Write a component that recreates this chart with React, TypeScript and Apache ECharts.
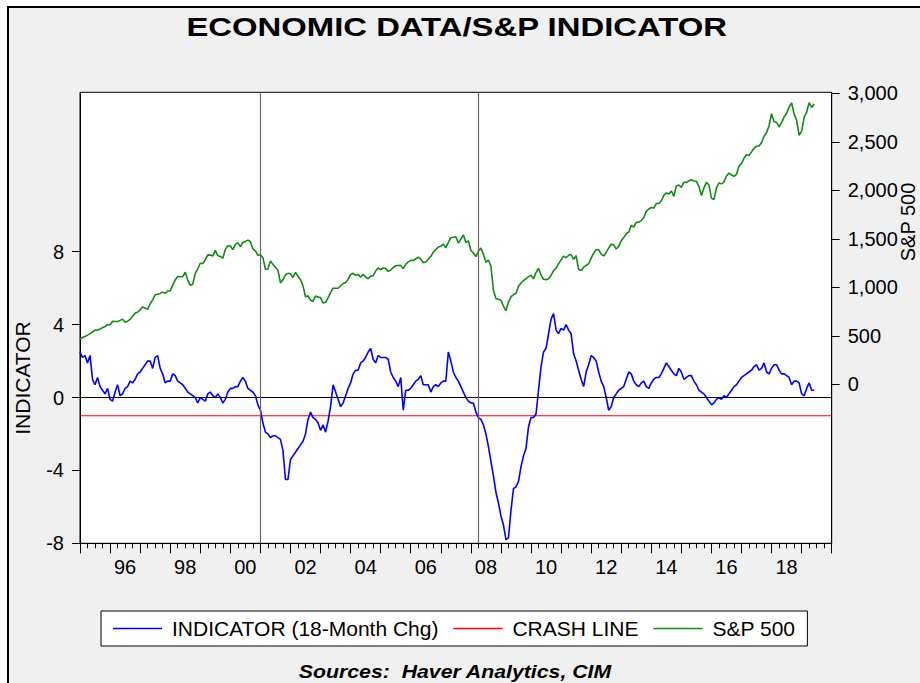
import React, { useEffect, useRef } from 'react';
import * as echarts from 'echarts';

const START_YEAR = 1995;

// INDICATOR (18-Month Chg), monthly from Jan 1995
const indicator = [
  2.5, 2.2, 2.3, 1.9, 2.3, 1.0, 0.7, 1.1, 0.6, 0.4, 0.2, 0.5,
  -0.1, -0.2, 0.3, 0.7, 0.1, 0.2, 0.5, 0.6, 0.9, 0.8, 1.0, 1.3,
  1.4, 1.6, 1.8, 2.0, 2.0, 1.6, 2.2, 2.3, 1.6, 1.3, 0.8, 0.9,
  0.9, 1.3, 1.2, 0.9, 0.8, 0.7, 0.5, 0.3, 0.2, 0.1, 0.0, -0.3,
  0.0, -0.1, -0.2, 0.2, 0.3, 0.1, 0.0, 0.2, 0.0, -0.3, -0.1, 0.3,
  0.5, 0.5, 0.6, 0.6, 0.9, 1.1, 0.9, 0.5, 0.4, 0.3, 0.1, -0.4,
  -0.7, -1.4, -1.9, -2.0, -2.2, -2.1, -2.1, -2.2, -2.3, -2.9, -4.5, -4.5,
  -3.4, -3.2, -3.0, -2.8, -2.6, -2.4, -2.0, -1.2, -0.8, -1.1, -1.2, -1.4,
  -1.8, -1.5, -1.9, -1.3, -0.5, 0.7, 0.3, -0.1, -0.5, -0.3, 0.1, 0.5,
  0.8, 1.3, 1.5, 1.5, 1.9, 2.0, 2.2, 2.5, 2.7, 2.1, 1.9, 2.3,
  2.2, 2.2, 2.2, 2.1, 1.4, 1.1, 0.9, 0.6, 1.1, -0.7, 0.4, 0.4,
  0.5, 0.7, 0.9, 1.0, 1.2, 0.7, 0.7, 0.7, 0.3, 0.6, 0.7, 0.6,
  0.8, 0.9, 0.9, 2.5, 2.0, 1.4, 1.1, 0.9, 0.6, 0.3, 0.0, -0.2,
  -0.3, -0.3, -0.8, -1.1, -1.2, -1.5, -2.0, -2.7, -3.5, -4.3, -5.2, -5.8,
  -6.5, -7.0, -7.8, -7.7, -6.2, -5.0, -4.9, -4.6, -3.8, -3.2, -2.8, -1.6,
  -1.1, -1.1, -0.9, 0.4, 1.7, 2.5, 2.7, 3.5, 4.3, 4.6, 3.7, 3.5,
  3.8, 3.7, 4.0, 3.7, 3.5, 2.4, 2.0, 1.5, 1.0, 0.6, 1.4, 1.8,
  2.3, 2.2, 2.0, 1.4, 0.9, 0.6, 0.0, -0.7, -0.5, 0.0, 0.2, 0.4,
  0.5, 0.6, 1.0, 1.4, 1.3, 0.9, 0.7, 0.6, 0.8, 0.9, 0.6, 0.5,
  0.8, 1.0, 1.1, 1.1, 1.3, 1.6, 1.9, 1.7, 1.5, 1.3, 1.2, 1.6,
  1.4, 1.0, 1.1, 1.2, 1.2, 0.9, 0.7, 0.4, 0.3, 0.2, 0.0, -0.2,
  -0.4, -0.3, -0.1, 0.0, -0.1, 0.1, 0.0, 0.2, 0.4, 0.6, 0.7, 0.9,
  1.1, 1.2, 1.3, 1.4, 1.5, 1.7, 1.8, 1.5, 1.6, 1.9, 1.4, 1.3,
  1.6, 1.8, 1.8, 1.5, 1.3, 1.3, 1.2, 1.1, 0.7, 0.9, 0.9, 0.8,
  0.2, 0.1, 0.5, 0.8, 0.4, 0.4,
];

// S&P 500, monthly from Jan 1995
const sp500 = [
  465, 482, 493, 507, 523, 539, 558, 560, 570, 584, 595, 614,
  614, 649, 647, 648, 659, 671, 640, 651, 670, 701, 735, 743,
  767, 798, 784, 773, 830, 871, 925, 928, 937, 950, 938, 962,
  963, 1023, 1077, 1112, 1108, 1109, 1156, 1074, 1020, 1032, 1144, 1191,
  1248, 1246, 1282, 1334, 1332, 1322, 1381, 1327, 1318, 1300, 1391, 1428,
  1425, 1388, 1443, 1461, 1419, 1462, 1473, 1486, 1469, 1395, 1375, 1330,
  1336, 1305, 1185, 1189, 1271, 1236, 1207, 1176, 1045, 1077, 1129, 1144,
  1140, 1101, 1154, 1112, 1080, 1014, 903, 912, 867, 854, 910, 899,
  895, 837, 846, 891, 945, 990, 990, 990, 1016, 1039, 1050, 1081,
  1132, 1144, 1124, 1133, 1103, 1133, 1106, 1088, 1117, 1118, 1168, 1200,
  1181, 1199, 1194, 1164, 1178, 1202, 1222, 1224, 1226, 1192, 1237, 1262,
  1278, 1277, 1294, 1310, 1290, 1253, 1261, 1290, 1317, 1363, 1389, 1416,
  1424, 1445, 1407, 1463, 1511, 1515, 1521, 1457, 1497, 1539, 1463, 1479,
  1379, 1354, 1317, 1371, 1404, 1341, 1257, 1281, 1217, 969, 883, 877,
  866, 806, 757, 848, 902, 926, 935, 1010, 1044, 1068, 1088, 1110,
  1123, 1089, 1152, 1197, 1125, 1083, 1079, 1087, 1122, 1171, 1198, 1242,
  1282, 1321, 1304, 1331, 1338, 1287, 1325, 1185, 1173, 1207, 1226, 1243,
  1300, 1352, 1389, 1386, 1341, 1323, 1359, 1404, 1443, 1437, 1394, 1422,
  1480, 1512, 1550, 1570, 1639, 1619, 1669, 1671, 1688, 1720, 1783, 1807,
  1823, 1817, 1864, 1864, 1890, 1948, 1973, 1961, 1993, 1937, 2044, 2055,
  2029, 2083, 2080, 2095, 2108, 2095, 2092, 2040, 1945, 2024, 2081, 2054,
  1919, 1904, 2022, 2076, 2066, 2084, 2148, 2177, 2158, 2143, 2165, 2247,
  2275, 2330, 2366, 2359, 2396, 2434, 2454, 2456, 2493, 2557, 2594, 2665,
  2790, 2705, 2702, 2654, 2701, 2754, 2794, 2857, 2902, 2785, 2723, 2567,
  2607, 2755, 2804, 2904, 2854, 2890,
];

const crashLevel = -1;
const verticalMarks = [2001, 2008.25];
const yearLabelValues = [1996, 1998, 2000, 2002, 2004, 2006, 2008, 2010, 2012, 2014, 2016, 2018];
const leftTicks = [-8, -4, 0, 4, 8];
const rightTicks = [0, 500, 1000, 1500, 2000, 2500, 3000];

const FONT = "'Liberation Sans', Arial, Helvetica, sans-serif";

export default function App() {
  const ref = useRef<HTMLDivElement>(null);

  useEffect(() => {
    if (!ref.current) return;
    const chart = echarts.init(ref.current, undefined, { renderer: 'svg' });

    const toT = (i: number) => START_YEAR + i / 12;
    const indData = indicator.map((v, i) => [toT(i), v]);
    const spData = sp500.map((v, i) => [toT(i), v]);
    const crashData = [[START_YEAR, crashLevel], [2020, crashLevel]];

    const option: any = {
      animation: false,
      backgroundColor: '#f0f0f0',
      textStyle: { fontFamily: FONT },
      grid: {
        left: 80,
        right: 88.3,
        top: 92.3,
        bottom: 139.7,
        show: true,
        backgroundColor: '#ffffff',
        borderColor: '#000',
        borderWidth: 1,
      },
      legend: {
        left: 101,
        top: 611,
        orient: 'horizontal',
        icon: 'rect',
        padding: [7, 12, 7, 12],
        itemGap: 15,
        itemWidth: 49,
        itemHeight: 1.5,
        borderColor: '#000',
        borderWidth: 1,
        backgroundColor: '#ffffff',
        textStyle: { fontSize: 21, color: '#000', fontFamily: FONT, padding: [0, 0, 0, 5] },
        data: ['INDICATOR (18-Month Chg)', 'CRASH LINE', 'S&P 500'],
      },
      xAxis: {
        type: 'value',
        min: 1995,
        max: 2020,
        interval: 1,
        axisLine: { show: true, onZero: false, lineStyle: { color: '#000', width: 1 } },
        axisTick: { show: true, length: 10, lineStyle: { color: '#000' } },
        minorTick: { show: true, splitNumber: 4, length: 5, lineStyle: { color: '#000' } },
        splitLine: { show: false },
        minorSplitLine: { show: false },
        axisLabel: {
          customValues: yearLabelValues.map((y) => y + 0.5),
          formatter: (v: number) => String(Math.floor(v) % 100).padStart(2, '0'),
          fontSize: 20,
          color: '#000',
          margin: 14,
          fontFamily: FONT,
        },
      },
      yAxis: [
        {
          type: 'value',
          position: 'left',
          min: -8,
          max: 16.75,
          axisLine: { show: true, onZero: false, lineStyle: { color: '#000' } },
          axisTick: { show: true, length: 8, customValues: leftTicks, lineStyle: { color: '#000' } },
          splitLine: { show: false },
          axisLabel: {
            customValues: leftTicks,
            fontSize: 20,
            color: '#000',
            margin: 16,
            padding: [0, 0, 5, 0],
            fontFamily: FONT,
          },
        },
        {
          type: 'value',
          position: 'right',
          min: -1639,
          max: 3010,
          axisLine: { show: true, onZero: false, lineStyle: { color: '#000' } },
          axisTick: { show: true, length: 8, customValues: rightTicks, lineStyle: { color: '#000' } },
          splitLine: { show: false },
          axisLabel: {
            customValues: rightTicks,
            formatter: (v: number) => v.toLocaleString('en-US'),
            fontSize: 20,
            color: '#000',
            margin: 16,
            padding: [0, 0, 14, 0],
            fontFamily: FONT,
          },
        },
      ],
      series: [
        {
          name: 'INDICATOR (18-Month Chg)',
          type: 'line',
          yAxisIndex: 0,
          data: indData,
          symbol: 'none',
          lineStyle: { color: '#0000ff', width: 1.6 },
          itemStyle: { color: '#0000ff' },
          z: 4,
          markLine: {
            silent: true,
            symbol: 'none',
            label: { show: false },
            animation: false,
            data: [
              { yAxis: 0, lineStyle: { color: '#000', width: 1, type: 'solid' } },
              ...verticalMarks.map((x) => ({ xAxis: x, lineStyle: { color: '#666', width: 1.2, type: 'solid' } })),
            ],
          },
        },
        {
          name: 'CRASH LINE',
          type: 'line',
          yAxisIndex: 0,
          data: crashData,
          symbol: 'none',
          lineStyle: { color: '#ff0000', width: 1.2 },
          itemStyle: { color: '#ff0000' },
          z: 3,
        },
        {
          name: 'S&P 500',
          type: 'line',
          yAxisIndex: 1,
          data: spData,
          symbol: 'none',
          lineStyle: { color: '#138a13', width: 1.6 },
          itemStyle: { color: '#138a13' },
          z: 3,
        },
      ],
      graphic: [
        { type: 'rect', silent: true, shape: { x: 0, y: 0, width: 920, height: 6 }, style: { fill: '#ffffff' } },
        { type: 'rect', silent: true, shape: { x: 0, y: 0, width: 7, height: 683 }, style: { fill: '#ffffff' } },
        {
          type: 'rect',
          silent: true,
          shape: { x: 8, y: 7, width: 1000, height: 1000 },
          style: { fill: 'none', stroke: '#000', lineWidth: 2 },
        },
        {
          type: 'text',
          x: 456.7,
          y: 27,
          scaleX: 1.24,
          silent: true,
          style: {
            text: 'ECONOMIC DATA/S&P INDICATOR',
            align: 'center',
            verticalAlign: 'middle',
            font: `bold 26.5px ${FONT}`,
            fill: '#000',
          },
        },
        {
          type: 'text',
          x: 22.7,
          y: 378,
          rotation: Math.PI / 2,
          silent: true,
          style: {
            text: 'INDICATOR',
            align: 'center',
            verticalAlign: 'middle',
            font: `21px ${FONT}`,
            fill: '#000',
          },
        },
        {
          type: 'text',
          x: 908,
          y: 222,
          rotation: Math.PI / 2,
          silent: true,
          style: {
            text: 'S&P 500',
            align: 'center',
            verticalAlign: 'middle',
            font: `20px ${FONT}`,
            fill: '#000',
          },
        },
        {
          type: 'text',
          x: 455,
          y: 671.5,
          scaleX: 1.12,
          silent: true,
          style: {
            text: 'Sources:  Haver Analytics, CIM',
            align: 'center',
            verticalAlign: 'middle',
            font: `italic bold 19px ${FONT}`,
            fill: '#000',
          },
        },
      ],
    };

    chart.setOption(option);
    return () => chart.dispose();
  }, []);

  return (
    <div
      ref={ref}
      style={{ position: 'fixed', left: 0, top: 0, width: 920, height: 683 }}
    />
  );
}
